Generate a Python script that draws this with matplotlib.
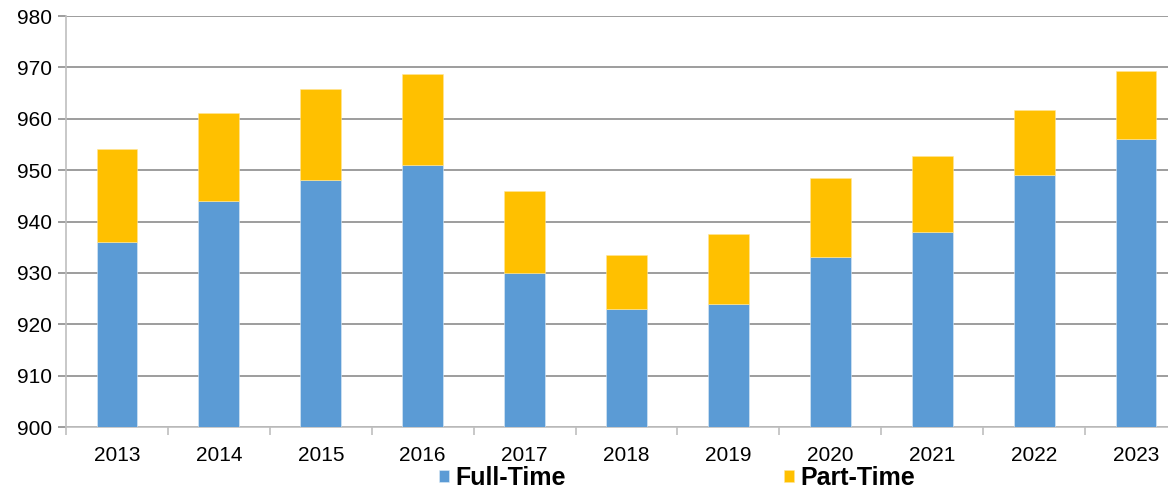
import matplotlib.pyplot as plt
import numpy as np

plt.rcParams['font.family'] = ['Liberation Sans', 'DejaVu Sans']

years = ['2013', '2014', '2015', '2016', '2017', '2018', '2019', '2020', '2021', '2022', '2023']
full_time = [936, 944, 948, 951, 930, 923, 924, 933, 938, 949, 956]
total = [954.2, 961.2, 965.7, 968.8, 946.0, 933.5, 937.5, 948.5, 952.7, 961.7, 969.3]
part_time = [t - f for t, f in zip(total, full_time)]

blue = '#5B9BD5'
gold = '#FFC000'
grid_grey = '#8C8C8C'
axis_grey = '#BFBFBF'

fig = plt.figure(figsize=(11.68, 4.9), dpi=100)
ax = fig.add_axes([66 / 1168, 1 - 427 / 490, 1121 / 1168, 411 / 490])

x = np.arange(len(years))
ax.bar(x, full_time, width=0.4, color=blue, edgecolor='#DDEBF7', linewidth=0.4,
       label='Full-Time', zorder=3)
ax.bar(x, part_time, width=0.4, bottom=full_time, color=gold, edgecolor='#FFE699',
       linewidth=0.4, label='Part-Time', zorder=3)

ax.set_ylim(900, 980)
ax.set_yticks(np.arange(900, 981, 10))
ax.set_xlim(-0.5, len(years) - 0.5)
ax.set_xticks(x)
ax.set_xticklabels(years)
ax.set_xticks(np.arange(-0.5, len(years), 1), minor=True)

ax.grid(axis='y', color=grid_grey, linewidth=1.2, zorder=0)
for side in ['top', 'right']:
    ax.spines[side].set_visible(False)
for side in ['left', 'bottom']:
    ax.spines[side].set_color(axis_grey)
    ax.spines[side].set_linewidth(1.2)

ax.tick_params(axis='x', which='major', length=0, pad=14, labelsize=15)
ax.tick_params(axis='x', which='minor', length=6, color=axis_grey, width=1.2)
ax.tick_params(axis='y', length=6, color=grid_grey, width=1.2, pad=4, labelsize=15)

fig.legend(loc='center', bbox_to_anchor=(677 / 1168, 1 - 478 / 490), ncol=2,
           frameon=False, prop={'weight': 'bold', 'size': 18},
           handlelength=0.42, handleheight=0.35, handletextpad=0.25,
           columnspacing=8.7, borderpad=0)

fig.savefig('out.png', dpi=100)
